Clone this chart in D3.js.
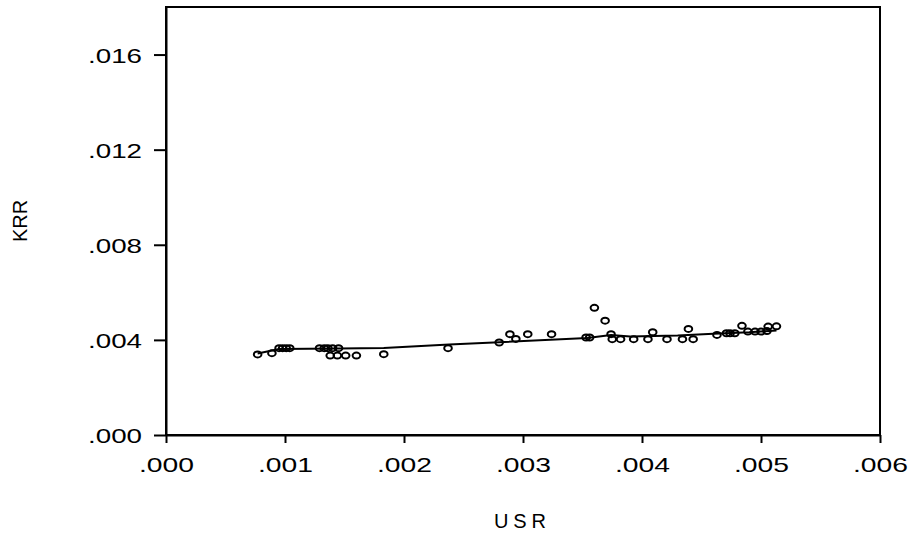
<!DOCTYPE html>
<html>
<head>
<meta charset="utf-8">
<script src="https://cdn.jsdelivr.net/npm/d3@7"></script>
<style>
  html, body { margin: 0; padding: 0; background: #fff; }
  svg { display: block; }
</style>
</head>
<body>
<svg id="chart" width="912" height="539"></svg>
<script>
// ---- data ----
const usr = [
  0.00077, 0.00089, 0.00095, 0.00098, 0.00101, 0.00104,
  0.00129, 0.00133, 0.00136, 0.00140, 0.00145,
  0.00138, 0.00144, 0.00151, 0.00160, 0.00183, 0.00237,
  0.00280, 0.00289, 0.00294, 0.00304, 0.00324, 0.00353, 0.00356,
  0.00360, 0.00369, 0.00374, 0.00375, 0.00382, 0.00393, 0.00405,
  0.00409, 0.00421, 0.00434, 0.00439, 0.00443, 0.00463,
  0.00471, 0.00474, 0.00478, 0.00484, 0.00489, 0.00495, 0.00500,
  0.00505, 0.00506, 0.00513
];
const krr = [
  0.00339, 0.00344, 0.00365, 0.00365, 0.00365, 0.00365,
  0.00365, 0.00365, 0.00365, 0.00365, 0.00365,
  0.00334, 0.00334, 0.00334, 0.00334, 0.00340, 0.00365,
  0.00389, 0.00424, 0.00404, 0.00424, 0.00424, 0.00410, 0.00410,
  0.00535, 0.00481, 0.00424, 0.00403, 0.00403, 0.00403, 0.00403,
  0.00432, 0.00403, 0.00403, 0.00446, 0.00403, 0.00421,
  0.00428, 0.00428, 0.00428, 0.00459, 0.00435, 0.00435, 0.00435,
  0.00437, 0.00456, 0.00457
];
// fitted (smoothed) line
const fitX = [0.00077, 0.00095, 0.00145, 0.00183, 0.00238, 0.00280, 0.00354, 0.00374, 0.00390, 0.00430, 0.00460, 0.00490, 0.00513];
const fitY = [0.00343, 0.00362, 0.00364, 0.00366, 0.00381, 0.00390, 0.00408, 0.00421, 0.00414, 0.00418, 0.00426, 0.00432, 0.00440];

const xTicks = [0, 0.001, 0.002, 0.003, 0.004, 0.005, 0.006];
const yTicks = [0, 0.004, 0.008, 0.012, 0.016];
const xTitle = "USR";
const yTitle = "KRR";

// ---- drawing ----
const svg = d3.select("#chart");
const mLeft = 166, mRight = 880, mTop = 7, mBottom = 435;
const x = d3.scaleLinear().domain([0, 0.006]).range([mLeft, mRight]);
const y = d3.scaleLinear().domain([0, 0.018]).range([mBottom, mTop]);
const fmt = d => d3.format(".3f")(d).replace(/^0/, "");
const font = "'Liberation Sans', Arial, sans-serif";

// frame
svg.append("rect")
  .attr("x", mLeft).attr("y", mTop)
  .attr("width", mRight - mLeft).attr("height", mBottom - mTop)
  .attr("fill", "none").attr("stroke", "#000").attr("stroke-width", 2);

// x axis
const gx = svg.append("g").attr("transform", `translate(0,${mBottom})`)
  .call(d3.axisBottom(x).tickValues(xTicks).tickFormat(fmt).tickSize(8).tickSizeOuter(0));
gx.select(".domain").attr("stroke-width", 2);
gx.selectAll(".tick line").attr("stroke-width", 2);
gx.selectAll(".tick text")
  .attr("y", 37).attr("dy", null)
  .attr("font-family", font).attr("font-size", 21).attr("fill", "#000")
  .attr("textLength", 55).attr("lengthAdjust", "spacingAndGlyphs");

// y axis
const gy = svg.append("g").attr("transform", `translate(${mLeft},0)`)
  .call(d3.axisLeft(y).tickValues(yTicks).tickFormat(fmt).tickSize(12).tickSizeOuter(0));
gy.select(".domain").attr("stroke-width", 2);
gy.selectAll(".tick line").attr("stroke-width", 2);
gy.selectAll(".tick text")
  .attr("x", -24).attr("dy", "0.36em")
  .attr("font-family", font).attr("font-size", 21).attr("fill", "#000")
  .attr("textLength", 54).attr("lengthAdjust", "spacingAndGlyphs");

// fit line
const line = d3.line().x((d, i) => x(fitX[i])).y((d, i) => y(fitY[i]));
svg.append("path")
  .datum(fitX)
  .attr("d", line)
  .attr("fill", "none").attr("stroke", "#000").attr("stroke-width", 2);

// points
svg.append("g").selectAll("ellipse")
  .data(usr.map((u, i) => [u, krr[i]]))
  .join("ellipse")
  .attr("cx", d => x(d[0])).attr("cy", d => y(d[1]))
  .attr("rx", 3.8).attr("ry", 3)
  .attr("fill", "none").attr("stroke", "#000").attr("stroke-width", 2);

// axis titles
svg.append("text")
  .attr("x", 520).attr("y", 528)
  .attr("text-anchor", "middle")
  .attr("font-family", font).attr("font-size", 20).attr("fill", "#000")
  .attr("textLength", 52).attr("lengthAdjust", "spacing")
  .text(xTitle);

svg.append("text")
  .attr("transform", "translate(27,221) rotate(-90)")
  .attr("text-anchor", "middle")
  .attr("font-family", font).attr("font-size", 20).attr("fill", "#000")
  .text(yTitle);
</script>
</body>
</html>
